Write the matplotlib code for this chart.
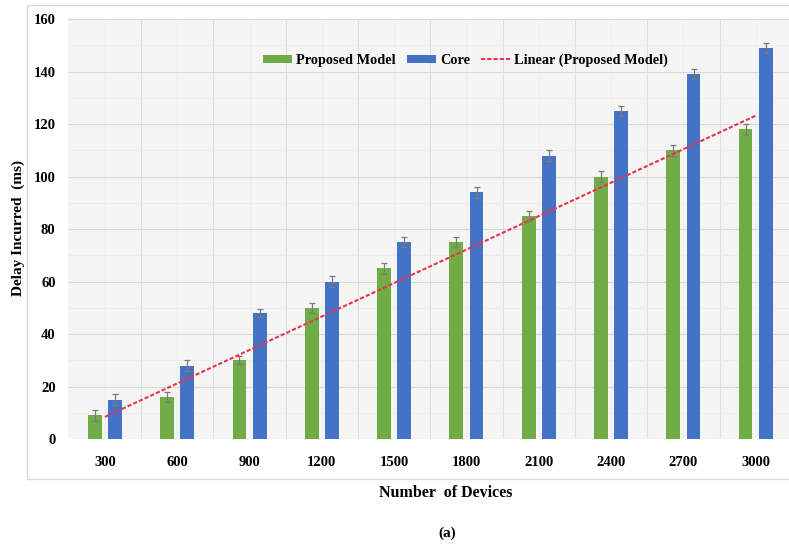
import numpy as np
import matplotlib
matplotlib.use("Agg")
import matplotlib.pyplot as plt
from matplotlib.patches import Rectangle

devices = ["300", "600", "900", "1200", "1500", "1800", "2100", "2400", "2700", "3000"]
proposed = [9, 16, 30, 50, 65, 75, 85, 100, 110, 118]
core = [15, 28, 48, 60, 75, 94, 108, 125, 139, 149]
err_proposed = [2, 2, 1.5, 2, 2, 2, 2, 2, 2, 2]
err_core = [2, 2, 1.5, 2, 2, 2, 2, 2, 2, 2]

plt.rcParams["font.family"] = ["Liberation Serif", "DejaVu Serif"]
plt.rcParams["font.weight"] = "bold"

fig = plt.figure(figsize=(7.89, 5.44), dpi=100)
ax = fig.add_axes([0.0862, 0.193, 0.9138, 0.772])

# light frame around the chart area
fig.patches.append(Rectangle((0.034, 0.1195), 1.0, 0.8715, transform=fig.transFigure,
                             facecolor="white", edgecolor="#d9d9d9", lw=1, zorder=-1))
ax.set_facecolor("#f5f5f5")

x = np.arange(len(devices))
w = 0.19
off = 0.14
ekw = dict(ecolor="#7a7a7a", elinewidth=0.9, capsize=2.5, capthick=0.9)
b1 = ax.bar(x - off, proposed, w, color="#70ad47", yerr=err_proposed, error_kw=ekw,
            label="Proposed Model", zorder=3)
b2 = ax.bar(x + off, core, w, color="#4472c4", yerr=err_core, error_kw=ekw,
            label="Core", zorder=3)

# linear trend of the proposed model
coef = np.polyfit(x + 1, proposed, 1)
ln, = ax.plot(x, np.polyval(coef, x + 1), color="#e8344a", lw=1.5, ls=(0, (2, 1)),
              label="Linear (Proposed Model)", zorder=4)

ax.set_xlim(-0.51, 9.46)
ax.set_ylim(0, 160)
ax.set_yticks(range(0, 161, 20))
ax.set_yticks(range(10, 160, 20), minor=True)
ax.set_xticks(x)
ax.set_xticklabels(devices)
ax.set_xticks(x[:-1] + 0.5, minor=True)
ax.tick_params(axis="both", which="both", length=0, labelsize=10.5)
ax.tick_params(axis="y", pad=9)
ax.tick_params(axis="x", pad=12)
for s in ax.spines.values():
    s.set_visible(False)

ax.grid(axis="y", which="major", color="#d9d9d9", lw=0.8, zorder=0)
ax.grid(axis="y", which="minor", color="#ececec", lw=0.6, zorder=0)
ax.grid(axis="x", which="minor", color="#dedede", lw=0.8, zorder=0)
ax.grid(axis="x", which="major", color="#ececec", lw=0.6, zorder=0)

fig.text(0.023, 0.58, "Delay Incurred  (ms)", rotation=90, ha="center", va="center",
         fontsize=11, fontweight="bold")
fig.text(0.565, 0.094, "Number  of Devices", ha="center", va="center",
         fontsize=11.5, fontweight="bold")
fig.text(0.567, 0.02, "(a)", ha="center", va="center", fontsize=11, fontweight="bold")

ax.legend(handles=[b1, b2, ln], loc="center", bbox_to_anchor=(0.59, 0.889),
          bbox_transform=fig.transFigure, ncol=3, frameon=False, fontsize=10.3,
          handlelength=2.0, handleheight=0.45, handletextpad=0.3, columnspacing=0.8)

fig.savefig("out.png", dpi=100)
